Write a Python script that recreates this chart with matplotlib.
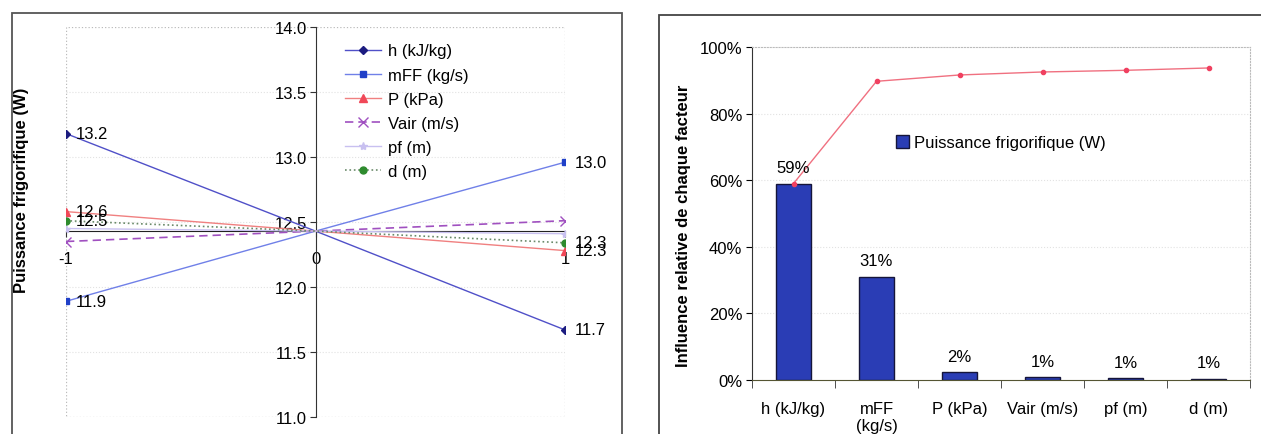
import matplotlib
matplotlib.use("Agg")
import matplotlib.pyplot as plt
from matplotlib.patches import Rectangle
from matplotlib.ticker import FuncFormatter

plt.rcParams['font.family'] = ['Liberation Sans', 'DejaVu Sans']

# left chart: effect of each factor at levels -1, 0, 1
levels = [-1, 0, 1]
h_vals = [13.18, 12.43, 11.67]
mff_vals = [11.89, 12.43, 12.96]
p_vals = [12.58, 12.43, 12.28]
vair_vals = [12.35, 12.43, 12.51]
pf_vals = [12.45, 12.43, 12.41]
d_vals = [12.51, 12.43, 12.34]
mean_val = 12.43

# right chart: relative influence (pareto)
factors = ['h (kJ/kg)', 'mFF\n(kg/s)', 'P (kPa)', 'Vair (m/s)', 'pf (m)', 'd (m)']
influence = [0.59, 0.31, 0.024, 0.008, 0.005, 0.004]
influence_labels = ['59%', '31%', '2%', '1%', '1%', '1%']
cumul = [0.59, 0.897, 0.916, 0.925, 0.93, 0.937]

W, H = 1261, 435
fig = plt.figure(figsize=(W / 100, H / 100), dpi=100)

def fig_box(x0, y0, x1, y1):
    # pixel box (top-left origin) -> figure fraction
    return [x0 / W, 1 - y1 / H, (x1 - x0) / W, (y1 - y0) / H]

# panel frames
fig.patches.append(Rectangle((12 / W, -0.1), (622 - 12) / W, 1.1 - 14 / H,
                             transform=fig.transFigure, fill=False,
                             edgecolor='#555555', linewidth=1.3))
fig.patches.append(Rectangle((659 / W, -0.1), 1.0, 1.1 - 16 / H,
                             transform=fig.transFigure, fill=False,
                             edgecolor='#444444', linewidth=1.3))

# ---------------- left chart ----------------
ax = fig.add_axes(fig_box(66, 28, 565, 418))
ax.set_xlim(-1, 1)
ax.set_ylim(11, 14)

for yv in [11.5, 12.0, 12.5, 13.0, 13.5]:
    ax.axhline(yv, color='#e2e2e2', linestyle=':', linewidth=0.8, zorder=0)
ax.add_patch(Rectangle((0, 0), 1, 1, transform=ax.transAxes, fill=False,
                       edgecolor='#bbbbbb', linestyle=':', linewidth=0.9, zorder=0))

for s in ['top', 'right']:
    ax.spines[s].set_visible(False)
ax.spines['left'].set_position(('data', 0))
ax.spines['bottom'].set_position(('data', mean_val))
ax.spines['left'].set_color('#333333')
ax.spines['bottom'].set_color('#222222')

yticks = [11.0, 11.5, 12.0, 12.5, 13.0, 13.5, 14.0]
ax.set_yticks(yticks)
ax.set_yticklabels(['%.1f' % v for v in yticks])
ax.set_xticks(levels)
ax.set_xticklabels(['-1', '0', '1'])
ax.tick_params(axis='both', labelsize=12, length=4, color='#333333')
ax.tick_params(axis='y', pad=2)
ax.tick_params(axis='x', pad=10)

ends = [0, 2]
ax.plot(levels, h_vals, color='#5050c8', linewidth=1, marker='D', markersize=4,
        markevery=ends, markerfacecolor='#1c1c80', markeredgecolor='#1c1c80',
        label='h (kJ/kg)', zorder=3)
ax.plot(levels, mff_vals, color='#7080e8', linewidth=1, marker='s', markersize=5,
        markevery=ends, markerfacecolor='#2040c8', markeredgecolor='#2040c8',
        label='mFF (kg/s)', zorder=3)
ax.plot(levels, p_vals, color='#f08080', linewidth=1, marker='^', markersize=6,
        markevery=ends, markerfacecolor='#f04858', markeredgecolor='#f04858',
        label='P (kPa)', zorder=3)
ax.plot(levels, vair_vals, color='#a050c0', linewidth=1.2, linestyle=(0, (5, 3)),
        marker='x', markersize=7, markevery=ends, markeredgecolor='#a050c0',
        label='Vair (m/s)', zorder=3)
ax.plot(levels, pf_vals, color='#c8c0f0', linewidth=1, marker='*', markersize=6,
        markevery=ends, markerfacecolor='#c8c0f0', markeredgecolor='#c8c0f0',
        label='pf (m)', zorder=3)
ax.plot(levels, d_vals, color='#6a8a6a', linewidth=1.2, linestyle=':', marker='o',
        markersize=5, markevery=ends, markerfacecolor='#2e8b2e', markeredgecolor='#2e8b2e',
        label='d (m)', zorder=3)

# data labels
for vals in [h_vals, mff_vals, p_vals, d_vals]:
    for i in ends:
        ax.annotate('%.1f' % vals[i], (levels[i], vals[i]), xytext=(7, 0),
                    textcoords='offset points', va='center', ha='left',
                    fontsize=12, annotation_clip=False)

ax.set_ylabel('Puissance frigorifique (W)', fontweight='bold', fontsize=12)
ax.yaxis.set_label_coords(-0.074, 0.585)

ax.legend(loc='upper left', bbox_to_anchor=(0.545, 0.975), frameon=False,
          fontsize=12, handlelength=2.2, handletextpad=0.4, labelspacing=0.55,
          borderaxespad=0)

# ---------------- right chart ----------------
ax2 = fig.add_axes(fig_box(752, 48, 1250, 381))
x = range(len(factors))
ax2.bar(x, influence, width=0.42, color='#2a3db5', edgecolor='#15153a',
        linewidth=1, label='Puissance frigorifique (W)', zorder=2)
ax2.plot(x, cumul, color='#f07080', linewidth=1, marker='o', markersize=3,
         markerfacecolor='#f04060', markeredgecolor='#f04060', zorder=3)

for i in x:
    ax2.annotate(influence_labels[i], (i, influence[i]), xytext=(0, 6),
                 textcoords='offset points', ha='center', va='bottom', fontsize=12)

ax2.set_xlim(-0.5, 5.5)
ax2.set_ylim(0, 1)
ax2.set_yticks([0, 0.2, 0.4, 0.6, 0.8, 1.0])
ax2.yaxis.set_major_formatter(FuncFormatter(lambda v, p: '%d%%' % round(v * 100)))
for yv in [0.2, 0.4, 0.6, 0.8]:
    ax2.axhline(yv, color='#e2e2e2', linestyle=':', linewidth=0.8, zorder=0)

ax2.set_xticks(list(x))
ax2.set_xticklabels(factors)
ax2.set_xticks([i + 0.5 for i in range(-1, 6)], minor=True)
ax2.tick_params(axis='x', which='major', length=0, labelsize=12, pad=15)
ax2.tick_params(axis='x', which='minor', length=6, color='#333333')
ax2.tick_params(axis='y', labelsize=12, length=4, pad=3)

ax2.spines['top'].set_color('#bbbbbb')
ax2.spines['top'].set_linestyle(':')
ax2.spines['right'].set_color('#bbbbbb')
ax2.spines['right'].set_linestyle(':')
ax2.spines['left'].set_color('#333333')
ax2.spines['bottom'].set_color('#555533')

ax2.set_ylabel('Influence relative de chaque facteur', fontweight='bold', fontsize=12)
ax2.yaxis.set_label_coords(-0.122, 0.465)

ax2.legend(loc='center left', bbox_to_anchor=(0.275, 0.712), frameon=False,
           fontsize=12, handlelength=0.8, handleheight=0.8, handletextpad=0.3,
           borderaxespad=0)

fig.savefig('out.png', dpi=100)
